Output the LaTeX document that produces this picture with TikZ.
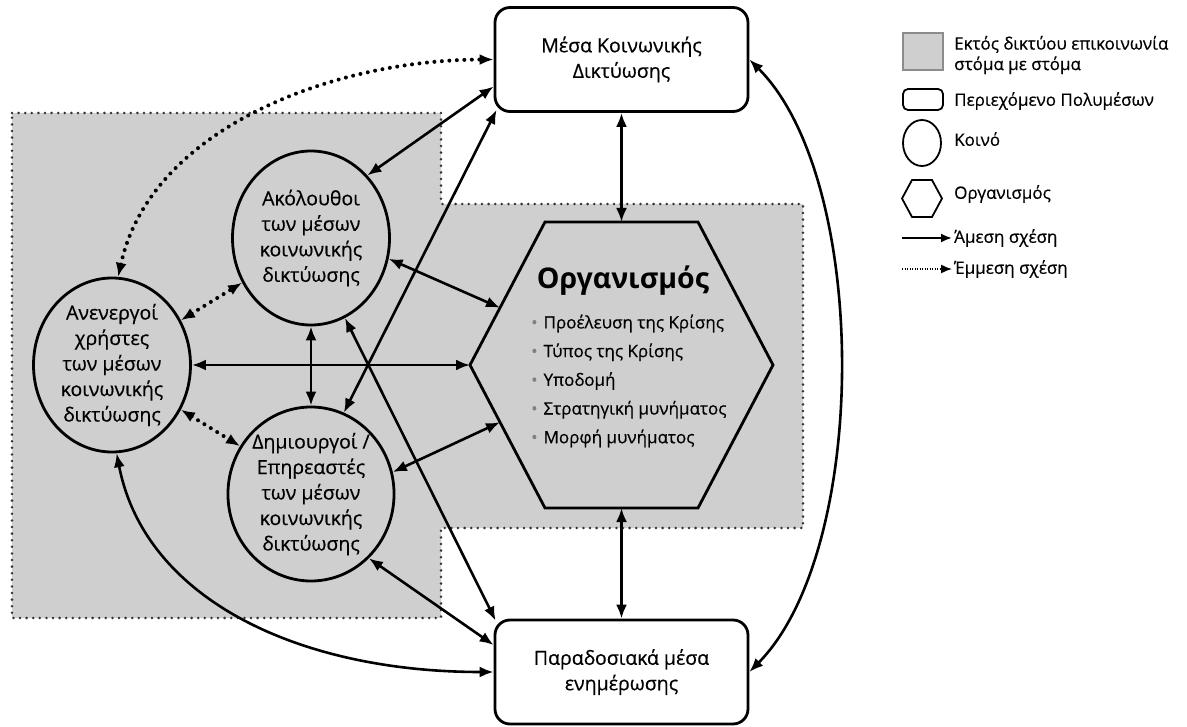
\documentclass[tikz,border=0pt]{standalone}
\usepackage{fontspec}
\setmainfont{Open Sans}[UprightFeatures={FakeBold=0.5}]
\usetikzlibrary{arrows.meta,shapes.geometric,calc}

\newcommand{\gbul}{{\color{black!50}\fontsize{17}{17}\selectfont\textbullet}\hspace{6pt}}

\begin{document}
\begin{tikzpicture}[x=1pt,y=-1pt,
    every node/.style = {align=center, font=\fontsize{19.5}{25.5}\selectfont},
    media/.style = {shape=rectangle, draw, rounded corners=15pt, line width=2.8pt,
      fill=white, minimum width=253pt, minimum height=104pt},
    public/.style = {shape=ellipse, draw, line width=2.8pt, inner sep=0pt,
      minimum width=157pt, minimum height=174pt},
    hexline/.style = {draw, line width=2.8pt, line join=miter},
    offline/.style = {fill=black!19},
    offborder/.style = {draw=black!80, line width=2.8pt, line cap=round,
      dash pattern=on 0pt off 6.6pt},
    link/.style = {line width=2.6pt,
      {Latex[length=14pt,width=11pt]}-{Latex[length=14pt,width=11pt]}},
    hint/.style = {link, line width=4pt, line cap=round,
      dash pattern=on 0pt off 7.5pt},
    keytext/.style = {anchor=west, align=left, inner sep=2pt,
      font=\fontsize{17}{20.5}\selectfont}]

  \useasboundingbox (0,0) rectangle (1187,727);

  \fill[offline] (12,113) -- (441,113) -- (441,204) -- (803,204) -- (803,528)
    -- (441,528) -- (441,618) -- (12,618) -- cycle;
  \draw[offborder] (12,113) -- (441,113) -- (441,204) -- (803,204) -- (803,528)
    -- (441,528) -- (441,618) -- (12,618) -- cycle;

  \node[media] (social) at (621.5,59.5) {Μέσα Κοινωνικής\\Δικτύωσης};
  \node[media] (press) at (621.5,672) {Παραδοσιακά μέσα\\ενημέρωσης};

  \node[public] (followers) at (311,238) {Ακόλουθοι\\των μέσων\\κοινωνικής\\δικτύωσης};
  \node[public] (idle) at (112,365) {Ανενεργοί\\χρήστες\\των μέσων\\κοινωνικής\\δικτύωσης};
  \node[public] (creators) at (311,494) {Δημιουργοί /\\Επηρεαστές\\των μέσων\\κοινωνικής\\δικτύωσης};

  \coordinate (hexW) at (470,365);
  \coordinate (hexNW) at (545,222);
  \coordinate (hexNE) at (698,222);
  \coordinate (hexE) at (773,365);
  \coordinate (hexSE) at (698,508);
  \coordinate (hexSW) at (545,508);
  \coordinate (hexN) at (621.5,222);
  \coordinate (hexS) at (621.5,508);
  \draw[hexline] (hexW) -- (hexNW) -- (hexNE) -- (hexE) -- (hexSE) -- (hexSW) -- cycle;

  \node[font=\fontsize{28.5}{30}\selectfont\bfseries] (org) at (623,281) {Οργανισμός};
  \node[anchor=west, align=left, inner sep=0pt,
    font=\fontsize{17}{28.7}\selectfont] (orgList) at (531,381)
    {\gbul Προέλευση της Κρίσης\\ \gbul Τύπος της Κρίσης\\ \gbul Υποδομή\\
     \gbul Στρατηγική μυνήματος\\ \gbul Μορφή μυνήματος};

  \draw[link] (social.south) -- (hexN);
  \draw[link] (hexS) -- (press.north);
  \draw[link] (idle.east) -- (hexW);
  \draw[link] (followers.south) -- (creators.north);
  \draw[link] (followers.-15) -- ($(hexW)!0.4!(hexNW)$);
  \draw[link] (creators.15) -- ($(hexW)!0.4!(hexSW)$);
  \draw[link] ([yshift=-27pt]social.west) -- (followers.48);
  \draw[link] ([xshift=3pt,yshift=3pt]social.south west) -- (creators.68);
  \draw[link] (followers.-67) -- ([xshift=2pt,yshift=-2pt]press.north west);
  \draw[link] (creators.-48) -- ([yshift=27pt]press.west);
  \draw[link] (idle.-87) .. controls (145,600) and (300,672) .. (press.west);
  \draw[link] (social.east) .. controls (870,180) and (870,550) .. (press.east);
  \draw[hint] (idle.86) .. controls (150,130) and (330,60) .. (social.west);
  \draw[hint] (idle.33) -- (followers.213);
  \draw[hint] (idle.-33) -- (creators.146);

  \node[draw=black!45, fill=black!19, line width=1.6pt, minimum width=40pt,
    minimum height=37pt] (keyOff) at (923,51.5) {};
  \node[keytext] (keyOffText) at (952,55) {Εκτός δικτύου επικοινωνία\\στόμα με στόμα};
  \node[draw, rounded corners=5pt, line width=1.8pt, minimum width=40pt,
    minimum height=21pt] (keyMedia) at (923,99.5) {};
  \node[keytext] (keyMediaText) at (952,101) {Περιεχόμενο Πολυμέσων};
  \node[draw, shape=ellipse, line width=1.8pt, minimum width=38pt,
    minimum height=46pt] (keyPublic) at (922,143) {};
  \node[keytext] (keyPublicText) at (952,139) {Κοινό};
  \draw[line width=1.8pt] (902,198.5) -- (912,180) -- (932,180) -- (942,198.5)
    -- (932,217) -- (912,217) -- cycle;
  \node[keytext] (keyOrgText) at (952,194) {Οργανισμός};
  \coordinate (keyDirect) at (902,238);
  \node[keytext] (keyDirectText) at (952,238) {Άμεση σχέση};
  \draw[line width=2pt, -{Latex[length=11pt,width=9pt]}] (keyDirect) -- (keyDirectText.west);
  \coordinate (keyIndirect) at (902,269);
  \node[keytext] (keyIndirectText) at (952,269) {Έμμεση σχέση};
  \draw[line width=1.5pt, dash pattern=on 1pt off 1.5pt, -{Latex[length=11pt,width=9pt]}]
    (keyIndirect) -- (keyIndirectText.west);
\end{tikzpicture}
\end{document}
